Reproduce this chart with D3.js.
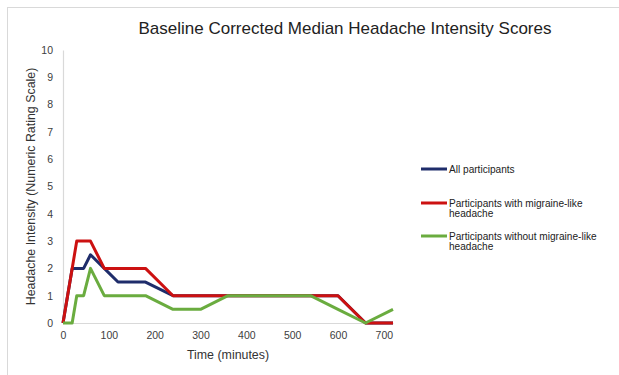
<!DOCTYPE html>
<html>
<head>
<meta charset="utf-8">
<script src="https://cdn.jsdelivr.net/npm/d3@7"></script>
<style>
  body { margin: 0; background: #fff; }
  svg { display: block; font-family: "Liberation Sans", Arial, sans-serif; }
</style>
</head>
<body>
<div class="plot"></div>
<script>
// Data
const times = [0, 20, 30, 45, 60, 90, 120, 180, 240, 300, 360, 420, 480, 540, 600, 660, 720];
const allParticipants = [0, 2, 2, 2, 2.5, 2, 1.5, 1.5, 1, 1, 1, 1, 1, 1, 1, 0, 0];
const withMigraine = [0, 2, 3, 3, 3, 2, 2, 2, 1, 1, 1, 1, 1, 1, 1, 0, 0];
const withoutMigraine = [0, 0, 1, 1, 2, 1, 1, 1, 0.5, 0.5, 1, 1, 1, 1, 0.5, 0, 0.5];
const seriesNames = ["All participants", "Participants with migraine-like headache", "Participants without migraine-like headache"];
const seriesColors = ["#1f2d6b", "#cc1111", "#6aac3f"];
const xTicks = [0, 100, 200, 300, 400, 500, 600, 700];
const yTicks = [0, 1, 2, 3, 4, 5, 6, 7, 8, 9, 10];

const W = 619, H = 375;
const margin = {top: 50, right: 226, bottom: 52, left: 63};
const w = W - margin.left - margin.right;
const h = H - margin.top - margin.bottom;

const svg = d3.select(".plot")
    .append("svg")
        .attr("width", W)
        .attr("height", H);

// chart frame
svg.append("rect")
    .attr("x", 7.5).attr("y", 7.5)
    .attr("width", W + 50).attr("height", H + 50)
    .attr("fill", "none")
    .attr("stroke", "#d9d9d9");

// Title
svg.append("text")
    .attr("x", 345)
    .attr("y", 34)
    .attr("text-anchor", "middle")
    .style("font-size", "17px")
    .attr("fill", "#222")
    .text("Baseline Corrected Median Headache Intensity Scores");

const g = svg.append("g")
    .attr("transform", "translate(" + margin.left + ", " + margin.top + ")");

const x = d3.scaleLinear().domain([0, 720]).range([0, w]);
const y = d3.scaleLinear().domain([0, 10]).range([h, 0]);

// Axes
const xAxis = g.append("g")
    .attr("transform", "translate(0, " + h + ")")
    .call(d3.axisBottom(x).tickValues(xTicks).tickSize(0).tickPadding(9));
const yAxis = g.append("g")
    .call(d3.axisLeft(y).tickValues(yTicks).tickSize(0).tickPadding(10));

[xAxis, yAxis].forEach(a => {
    a.select(".domain").attr("stroke", "#d9d9d9").attr("stroke-width", 1.2);
    a.selectAll("text")
        .attr("fill", "#404040")
        .style("font-size", "10.5px")
        .style("font-family", "'Liberation Sans', Arial, sans-serif");
});

// Axis titles
svg.append("text")
    .attr("x", margin.left + w / 2)
    .attr("y", 359)
    .attr("text-anchor", "middle")
    .attr("fill", "#333")
    .style("font-size", "12.4px")
    .text("Time (minutes)");

svg.append("text")
    .attr("transform", "translate(35, " + (margin.top + h / 2) + ") rotate(-90)")
    .attr("text-anchor", "middle")
    .attr("fill", "#333")
    .style("font-size", "12.4px")
    .text("Headache Intensity (Numeric Rating Scale)");

// Lines
const data = [allParticipants, withMigraine, withoutMigraine];
const line = d3.line()
    .x((d, i) => x(times[i]))
    .y(d => y(d));

g.selectAll(".series")
    .data(data)
    .enter()
    .append("path")
        .attr("class", "series")
        .attr("d", d => line(d))
        .attr("fill", "none")
        .attr("stroke", (d, i) => seriesColors[i])
        .attr("stroke-width", 3)
        .attr("stroke-linejoin", "round");

// Legend
const legendY = [169, 203, 236];
const legend = svg.append("g")
    .selectAll("g")
    .data(seriesNames)
    .enter()
    .append("g")
    .attr("transform", (d, i) => "translate(421, " + legendY[i] + ")");

legend.append("line")
    .attr("x1", 0).attr("x2", 26)
    .attr("stroke", (d, i) => seriesColors[i])
    .attr("stroke-width", 3);

legend.append("text")
    .attr("x", 28)
    .attr("y", 3.5)
    .attr("fill", "#222")
    .style("font-size", "10.1px")
    .each(function(d) {
        const t = d3.select(this);
        const parts = d === seriesNames[0] ? [d] : [d.replace(" headache", ""), "headache"];
        parts.forEach((p, k) => {
            t.append("tspan").attr("x", 28).attr("dy", k === 0 ? 0 : 10.7).text(p);
        });
    });
</script>
</body>
</html>
